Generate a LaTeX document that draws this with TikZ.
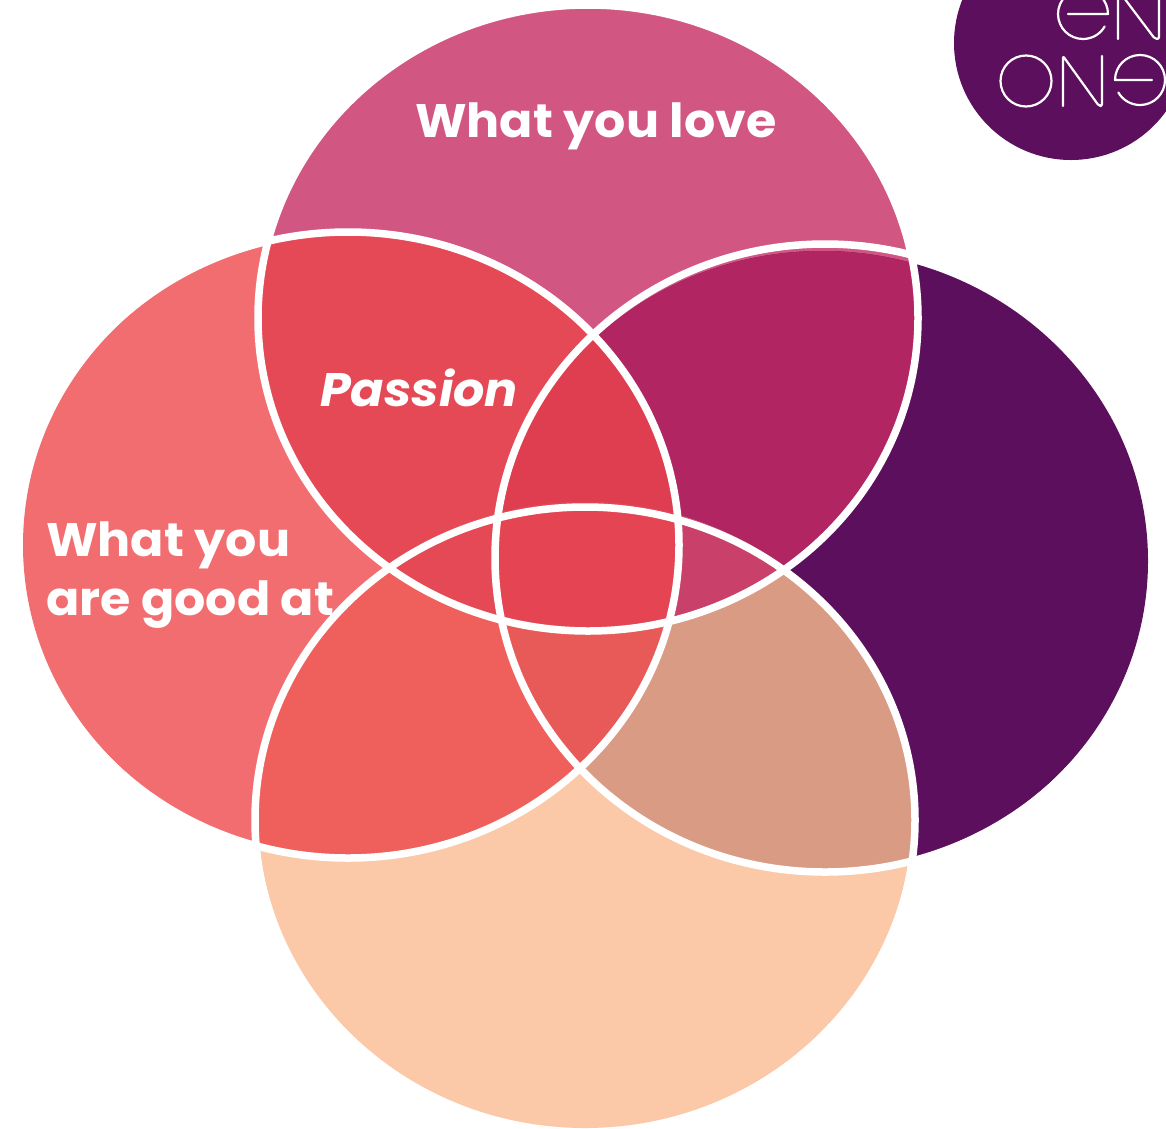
\documentclass[tikz,border=0pt]{standalone}
\usepackage{fontspec}
\setmainfont[FakeStretch=1.045]{Poppins}
\definecolor{cT}{HTML}{D25682}
\definecolor{cL}{HTML}{F26D70}
\definecolor{cR}{HTML}{5C0F5C}
\definecolor{cB}{HTML}{FBC9A7}
\definecolor{cTL}{HTML}{E54956}
\definecolor{cTR}{HTML}{B02562}
\definecolor{cLB}{HTML}{EF605D}
\definecolor{cRB}{HTML}{DA9B85}
\definecolor{cTLR}{HTML}{DF3E50}
\definecolor{cTLB}{HTML}{E54956}
\definecolor{cTRB}{HTML}{C9416B}
\definecolor{cLRB}{HTML}{E85A58}
\definecolor{cAll}{HTML}{E54553}
\newcommand{\eT}{(589,317.5) ellipse [x radius=329,y radius=309.5]}
\newcommand{\eL}{(351,545) ellipse [x radius=328,y radius=312]}
\newcommand{\eR}{(822,561) ellipse [x radius=326,y radius=310]}
\newcommand{\eB}{(585,815) ellipse [x radius=327,y radius=313]}
\tikzset{
  ring/.style={draw=white,line width=7.5pt},
  lab/.style={text=white,font=\fontsize{47}{47}\selectfont\bfseries,anchor=base west,inner sep=0pt},
  logo/.style={draw=white,line width=2.2pt,line join=round,line cap=round}
}
\begin{document}
\begin{tikzpicture}[x=1pt,y=-1pt]
\useasboundingbox (0,0) rectangle (1166,1128);
\clip (0,0) rectangle (1166,1128);
% base fills
\fill[cT] \eT; \fill[cL] \eL; \fill[cR] \eR; \fill[cB] \eB;
% pairs
\begin{scope}\clip \eT; \fill[cTL] \eL; \fill[cTR] \eR; \end{scope}
\begin{scope}\clip \eB; \fill[cLB] \eL; \fill[cRB] \eR; \end{scope}
% triples and the centre
\begin{scope}\clip \eT; \clip \eL; \fill[cTLR] \eR; \fill[cTLB] \eB; \end{scope}
\begin{scope}\clip \eT; \clip \eR; \fill[cTRB] \eB; \end{scope}
\begin{scope}\clip \eB; \clip \eL; \fill[cLRB] \eR; \end{scope}
\begin{scope}\clip \eT; \clip \eL; \clip \eR; \fill[cAll] \eB; \end{scope}
% white outlines
\draw[ring] (588,318) ellipse [x radius=330,y radius=313];
\draw[ring] (348,545) ellipse [x radius=331,y radius=313];
\draw[ring] (825,558) ellipse [x radius=330,y radius=314];
\draw[ring] (585,820) ellipse [x radius=330,y radius=313];
% logo
\fill[cR] (1071,43) circle [radius=117];
\draw[logo] (1026,81) circle [radius=25.5];
\draw[logo,rounded corners=2pt] (1063,106) -- (1063,56) -- (1099,106) -- (1102,106) -- (1102,56);
\draw[logo] (1152,80) -- (1115,80) arc [start angle=180,end angle=-150,x radius=25,y radius=-25];
\draw[logo] (1068,14) -- (1108,14) arc [start angle=0,end angle=330,x radius=25,y radius=-25];
\draw[logo,rounded corners=2pt] (1118,39) -- (1118,-10) -- (1155,39) -- (1159,39) -- (1159,-10);
% labels
\node[lab] (love) at (415,137) {What you love};
\node[lab] (good1) at (46,556) {What you};
\node[lab] (good2) at (46,615) {are good at};
\node[lab,font=\fontsize{47}{47}\selectfont\bfseries\itshape] (passion) at (320,406) {Passion};
\end{tikzpicture}
\end{document}
